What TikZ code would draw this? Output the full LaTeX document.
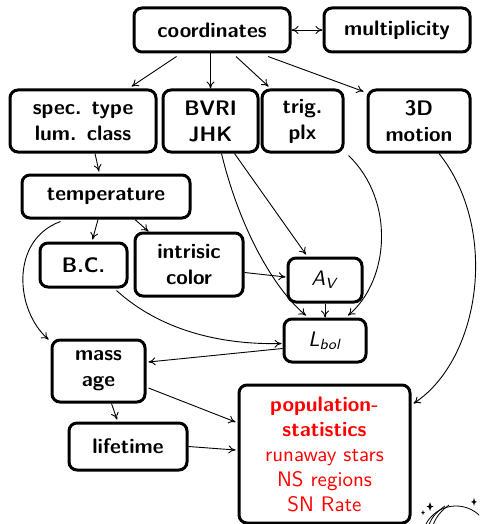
\documentclass[tikz,border=0pt]{standalone}
\usepackage{tikz}
\usetikzlibrary{arrows.meta,calc}
\newcommand{\boxfont}{\fontsize{10.5}{13}\selectfont\sffamily\bfseries}
\newcommand{\makestar}[3]{
	\fill (#1,#2) -- ++(#3*0.3,#3) -- ++(#3*0.7,#3*0.3) -- ++(-#3*0.7,#3*0.3)
		-- ++(-#3*0.3,#3) -- ++(-#3*0.3,-#3) -- ++(-#3*0.7,-#3*0.3)
		-- ++(#3*0.7,-#3*0.3) -- cycle;
}

\begin{document}
\begin{tikzpicture}[x=0.5pt,y=-0.5pt,
	box/.style={draw, line width=1.5pt, rounded corners=4pt, align=center,
		font=\boxfont, inner sep=1pt},
	link/.style={-{To[length=3.5pt,width=4pt]}, line width=0.45pt},
	both/.style={{To[length=3.5pt,width=4pt]}-{To[length=3.5pt,width=4pt]}, line width=0.45pt}]
	\useasboundingbox (0,0) rectangle (479,524);

	\node [box, minimum width=78pt, minimum height=22pt] (coord) at (212,30) {coordinates};
	\node [box, minimum width=73pt, minimum height=22pt] (mult) at (397,30) {multiplicity};
	\node [box, minimum width=73pt, minimum height=31pt] (spec) at (83,121) {spec. type\\lum. class};
	\node [box, minimum width=47.5pt, minimum height=31pt] (bvri) at (210.5,121) {BVRI\\JHK};
	\node [box, minimum width=40.5pt, minimum height=31pt] (trig) at (302.5,121) {trig.\\plx};
	\node [box, minimum width=51pt, minimum height=31pt] (motion) at (419,121) {3D\\motion};
	\node [box, minimum width=84pt, minimum height=21.5pt] (temp) at (106,196.5) {temperature};
	\node [box, minimum width=43.5pt, minimum height=22pt] (bc) at (83.5,265) {B.C.};
	\node [box, minimum width=54pt, minimum height=31.5pt] (color) at (189,264.5) {intrisic\\color};
	\node [box, minimum width=37pt, minimum height=22pt, font=\fontsize{10.5}{13}\selectfont\sffamily]
		(av) at (325,280) {\textit{A}\textsubscript{\textit{V}}};
	\node [box, minimum width=41pt, minimum height=21.5pt, font=\fontsize{10.5}{13}\selectfont\sffamily]
		(lbol) at (325,340.5) {\textit{L}\textsubscript{\textit{bol}}};
	\node [box, minimum width=46.5pt, minimum height=31pt] (mass) at (98.5,371) {mass\\age};
	\node [box, minimum width=59pt, minimum height=23.5pt] (life) at (128,446.5) {lifetime};
	\node [box, minimum width=85.5pt, minimum height=69pt, text=red, font=\fontsize{10.5}{12.5}\selectfont\sffamily]
		(pop) at (324.5,454) {\textbf{population-}\\\textbf{statistics}\\runaway stars\\NS regions\\SN Rate};

	\draw [both] (coord) -- (mult);
	\draw [link] (coord.south west) ++(44,3) -- ($(spec.north east)+(-26,-2)$);
	\draw [link] (coord.south -| bvri.north) -- (bvri.north);
	\draw [link] (coord.south) ++(24,3) -- ($(trig.north west)+(8,-2)$);
	\draw [link] (coord.south) ++(56,3) -- ($(motion.north west)+(-3,3)$);
	\draw [link] ($(spec.south)+(12,0)$) -- ($(temp.north)+(-7,-2)$);
	\draw [link] ($(temp.south)+(-8,0)$) -- ($(bc.north)+(9,-2)$);
	\draw [link] ($(temp.south)+(29,0)$) -- ($(color.north west)+(15,0)$);
	\draw [link] ($(temp.south west)+(40,2)$) .. controls (10,240) and (15,310) .. ($(mass.north west)+(-2,1)$);
	\draw [link] ($(bvri.south)+(24,0)$) -- ($(av.north)+(-19,-2)$);
	\draw [link] ($(bvri.south)+(11,0)$) .. controls (240,230) and (275,290) .. ($(lbol.north)+(-19,-2)$);
	\draw [link] ($(trig.south east)+(4,2)$) .. controls (395,200) and (390,280) .. ($(lbol.north)+(23,-2)$);
	\draw [link] ($(color.east)+(0,8)$) -- ($(av.west)+(-1,-3)$);
	\draw [link] (av.south) -- (lbol.north);
	\draw [link] ($(bc.south east)+(-12,2)$) .. controls (160,330) and (220,345) .. ($(lbol.west)+(-1,3)$);
	\draw [link] ($(lbol.west)+(0,8)$) -- ($(mass.east)+(2,-9)$);
	\draw [link] ($(mass.south)+(13,0)$) -- ($(life.north)+(-11,-2)$);
	\draw [link] ($(motion.south)+(20,0)$) .. controls (500,230) and (480,360) .. ($(pop.north east)+(2,20)$);
	\draw [link] ($(mass.east)+(2,17)$) -- ($(pop.west)+(-2,-32)$);
	\draw [link] (life.east) -- ($(pop.west)+(-2,-4)$);

	% moon in the corner
	\begin{scope}
	\clip (0,0) rectangle (479,524);
	\draw [line width=0.4pt] (456,540) circle (34);
	\draw [line width=0.4pt] (445,506) .. controls (432,515) and (428,522) .. (426,540);
	\draw [line width=0.4pt] (449,505) .. controls (437,514) and (432,522) .. (430,540);
	\makestar{430}{502}{3.5}
	\makestar{423}{510}{2}
	\makestar{474}{498}{3}
	\end{scope}
\end{tikzpicture}
\end{document}
